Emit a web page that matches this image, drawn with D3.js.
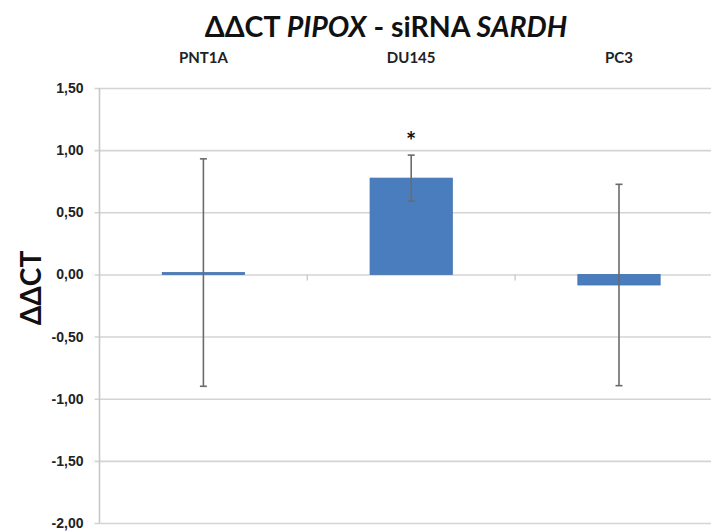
<!DOCTYPE html>
<html>
<head>
<meta charset="utf-8">
<script src="https://cdn.jsdelivr.net/npm/d3@7"></script>
<style>
  html, body { margin: 0; padding: 0; background: #fff; }
  svg { display: block; font-family: Lato, "Open Sans", sans-serif; }
</style>
</head>
<body>
<svg id="chart" width="711" height="532"></svg>
<script>
// Cell lines, mean ΔΔCT and error (±) for PIPOX after SARDH knock-down
const categories = ["PNT1A", "DU145", "PC3"];
const meanValues = [0.015, 0.775, -0.085];
const errorValues = [0.915, 0.185, 0.81];
const significance = ["", "*", ""];
const yTicks = [1.5, 1.0, 0.5, 0.0, -0.5, -1.0, -1.5, -2.0];

const svg = d3.select("#chart");
const W = 711, H = 532;
const plotLeft = 99.5, plotTop = 88, plotBottom = 523;
const bandW = 207.8;

const x = d3.scaleBand()
  .domain(categories)
  .range([plotLeft, plotLeft + bandW * categories.length])
  .paddingInner(0).paddingOuter(0);

const y = d3.scaleLinear().domain([-2, 1.5]).range([plotBottom, plotTop]);

const fmt = v => d3.format(".2f")(v).replace(".", ",").replace("−", "-");

// Horizontal gridlines with short ticks on the left
const yAxis = d3.axisLeft(y)
  .tickValues(yTicks)
  .tickSize(-(W - plotLeft + 5))
  .tickPadding(14)
  .tickFormat(fmt);

const gy = svg.append("g")
  .attr("transform", `translate(${plotLeft},0)`)
  .call(yAxis);
gy.select(".domain").remove();
gy.selectAll(".tick line")
  .attr("x1", -5)
  .attr("x2", W - plotLeft)
  .attr("stroke", "#d4d4d4")
  .attr("stroke-width", 1.6);
gy.selectAll(".tick text")
  .attr("x", -16)
  .attr("fill", "#222")
  .attr("font-size", 14)
  .attr("font-weight", "bold");

// Vertical value axis line
svg.append("line")
  .attr("x1", plotLeft).attr("x2", plotLeft)
  .attr("y1", plotTop).attr("y2", plotBottom)
  .attr("stroke", "#c8c8c8")
  .attr("stroke-width", 1.6);

// Category axis along zero with small ticks between bands
const boundaries = categories.slice(1).map(c => x(c));
svg.append("g").selectAll("line")
  .data(boundaries)
  .join("line")
  .attr("x1", d => d).attr("x2", d => d)
  .attr("y1", y(0)).attr("y2", y(0) + 6)
  .attr("stroke", "#c8c8c8")
  .attr("stroke-width", 1.3);

// Bars
const barW = x.bandwidth() * 0.396;
const cx = c => x(c) + x.bandwidth() / 2;

svg.append("g").selectAll("rect")
  .data(categories)
  .join("rect")
  .attr("x", c => cx(c) - barW / 2)
  .attr("width", barW)
  .attr("y", (c, i) => y(Math.max(0, meanValues[i])))
  .attr("height", (c, i) => Math.abs(y(meanValues[i]) - y(0)))
  .attr("fill", "#4a7dbd")
  .attr("stroke", "#4272b0")
  .attr("stroke-width", 0.8);

// Error bars
const eg = svg.append("g").attr("stroke", "#6b6b6b").attr("stroke-width", 1.6);
categories.forEach((c, i) => {
  const hi = y(meanValues[i] + errorValues[i]);
  const lo = y(meanValues[i] - errorValues[i]);
  const xc = cx(c);
  eg.append("line").attr("x1", xc).attr("x2", xc).attr("y1", hi).attr("y2", lo);
  eg.append("line").attr("x1", xc - 3.5).attr("x2", xc + 3.5).attr("y1", hi).attr("y2", hi);
  eg.append("line").attr("x1", xc - 3.5).attr("x2", xc + 3.5).attr("y1", lo).attr("y2", lo);
});

// Significance marks above error bars
svg.append("g").selectAll("text")
  .data(categories)
  .join("text")
  .attr("x", c => cx(c))
  .attr("y", (c, i) => y(meanValues[i] + errorValues[i]) - 5)
  .attr("text-anchor", "middle")
  .attr("font-size", 24)
  .attr("font-weight", "bold")
  .attr("fill", "#111")
  .text((c, i) => significance[i]);

// Category labels above plot
svg.append("g").selectAll("text")
  .data(categories)
  .join("text")
  .attr("x", c => cx(c))
  .attr("y", 63)
  .attr("text-anchor", "middle")
  .attr("font-size", 15)
  .attr("font-weight", "bold")
  .attr("fill", "#222")
  .text(c => c);

// Title
const title = svg.append("text")
  .attr("x", 386)
  .attr("y", 37)
  .attr("text-anchor", "middle")
  .attr("font-size", 28.5)
  .attr("font-weight", "bold")
  .attr("fill", "#111");
title.append("tspan").text("ΔΔCT ");
title.append("tspan").attr("font-style", "italic").text("PIPOX");
title.append("tspan").text(" - siRNA ");
title.append("tspan").attr("font-style", "italic").text("SARDH");

// Y-axis title
svg.append("text")
  .attr("transform", "translate(41,288) rotate(-90)")
  .attr("text-anchor", "middle")
  .attr("font-size", 28)
  .attr("font-weight", "bold")
  .attr("fill", "#111")
  .text("ΔΔCT");
</script>
</body>
</html>
